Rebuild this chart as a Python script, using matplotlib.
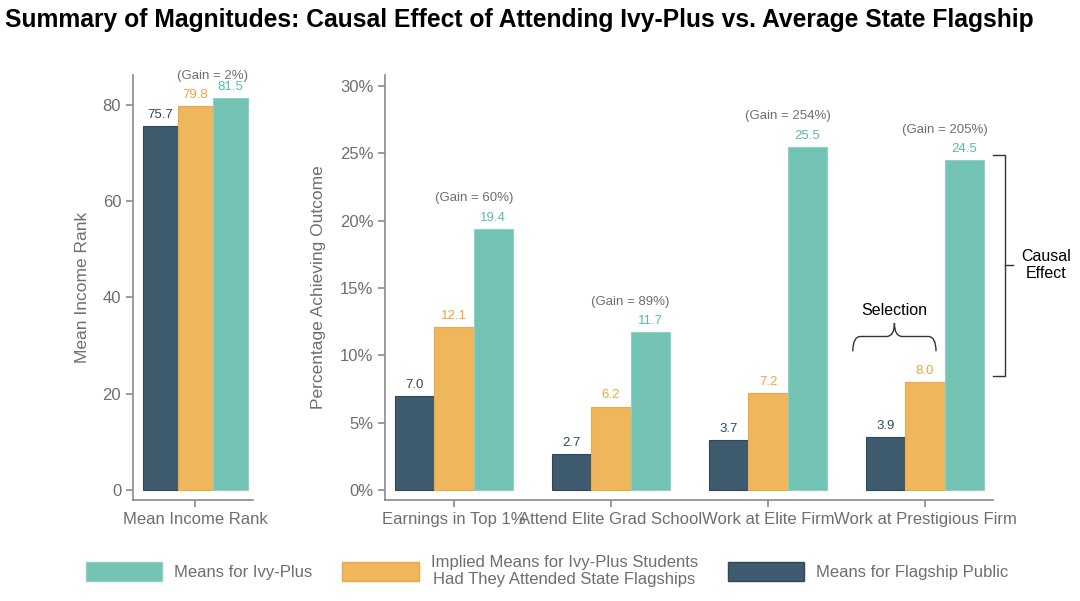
import matplotlib
matplotlib.use("Agg")
import matplotlib.pyplot as plt
from matplotlib.patches import Patch, PathPatch
from matplotlib.path import Path
import numpy as np

plt.rcParams['font.family'] = ['Liberation Sans', 'DejaVu Sans']

# data
series = ["Means for Flagship Public",
          "Implied Means for Ivy-Plus Students\nHad They Attended State Flagships",
          "Means for Ivy-Plus"]
income_vals = [75.7, 79.8, 81.5]
income_gain = "2%"
outcomes = ["Earnings in Top 1%", "Attend Elite Grad School",
            "Work at Elite Firm", "Work at Prestigious Firm"]
flagship = [7.0, 2.7, 3.7, 3.9]
implied = [12.1, 6.2, 7.2, 8.0]
ivy = [19.4, 11.7, 25.5, 24.5]
gains = ["60%", "89%", "254%", "205%"]

bar_cols = ["#3e5c6e", "#f0b65c", "#73c3b5"]
edge_cols = ["#2f4858", "#eaa94a", "#8fd0c4"]
lab_cols = ["#2d4a5c", "#f0a53a", "#5bbaa8"]
grey = "#8a8a8a"
txt_grey = "#6e6e6e"

W, H = 1080, 601
fig = plt.figure(figsize=(W / 100, H / 100), dpi=100)
ax1 = fig.add_axes([133 / W, (H - 500) / H, 120 / W, 425 / H])
ax2 = fig.add_axes([385 / W, (H - 500) / H, 608 / W, 425 / H])

w = 0.25
offs = [-w, 0, w]


def style(ax):
    for s in ["top", "right"]:
        ax.spines[s].set_visible(False)
    for s in ["left", "bottom"]:
        ax.spines[s].set_color(grey)
        ax.spines[s].set_linewidth(1.2)
    ax.tick_params(direction="out", length=5, width=1.2, color=grey,
                   labelcolor=txt_grey, labelsize=12)


# left panel
for i, v in enumerate(income_vals):
    ax1.bar(offs[i], v, w, color=bar_cols[i], edgecolor=edge_cols[i], linewidth=0.8)
    ax1.annotate(f"{v:.1f}", (offs[i], v), xytext=(0, 8), textcoords="offset points",
                 ha="center", va="center", fontsize=9.5, color=lab_cols[i])
ax1.annotate(f"(Gain = {income_gain})", (w / 2, income_vals[2]), xytext=(0, 16),
             textcoords="offset points", ha="center", va="center", fontsize=9.5, color=txt_grey)
ax1.set_xlim(-0.443, 0.414)
ax1.set_ylim(-2.08, 86.23)
ax1.set_yticks([0, 20, 40, 60, 80])
ax1.set_xticks([0])
ax1.set_xticklabels(["Mean Income Rank"])
ax1.set_ylabel("Mean Income Rank", fontsize=12.5, color=txt_grey, labelpad=9)
style(ax1)

# right panel
x = np.arange(len(outcomes))
for i, vals in enumerate([flagship, implied, ivy]):
    ax2.bar(x + offs[i], vals, w, color=bar_cols[i], edgecolor=edge_cols[i], linewidth=0.8)
    for xi, v in zip(x, vals):
        ax2.annotate(f"{v:.1f}", (xi + offs[i], v), xytext=(0, 8), textcoords="offset points",
                     ha="center", va="center", fontsize=9.5, color=lab_cols[i])
for xi, v, g in zip(x, ivy, gains):
    ax2.annotate(f"(Gain = {g})", (xi + w / 2, v), xytext=(0, 22), textcoords="offset points",
                 ha="center", va="center", fontsize=9.5, color=txt_grey)
ax2.set_xlim(-0.44, 3.433)
ax2.set_ylim(-0.743, 30.82)
ax2.set_yticks([0, 5, 10, 15, 20, 25, 30])
ax2.set_yticklabels([f"{t}%" for t in [0, 5, 10, 15, 20, 25, 30]])
ax2.set_xticks(x)
ax2.set_xticklabels(outcomes)
ax2.set_ylabel("Percentage Achieving Outcome", fontsize=12.5, color=txt_grey, labelpad=10)
style(ax2)

# selection brace (horizontal, tip up)
x0, x1, y0 = 2.54, 3.07, 10.3
h, t, r = 1.1, 1.0, 0.05
xm = (x0 + x1) / 2
verts = [(x0, y0), (x0, y0 + h), (x0 + r, y0 + h),
         (xm - r, y0 + h), (xm, y0 + h), (xm, y0 + h + t),
         (xm, y0 + h), (xm + r, y0 + h),
         (x1 - r, y0 + h), (x1, y0 + h), (x1, y0)]
codes = [Path.MOVETO, Path.CURVE3, Path.CURVE3, Path.LINETO, Path.CURVE3, Path.CURVE3,
         Path.CURVE3, Path.CURVE3, Path.LINETO, Path.CURVE3, Path.CURVE3]
ax2.add_patch(PathPatch(Path(verts, codes), fill=False, edgecolor="#333333", lw=1.0, clip_on=False))
ax2.text(xm, y0 + h + t + 0.9, "Selection", ha="center", va="center", fontsize=11.5, color="black")

# causal effect bracket (vertical)
bx, bw, yb, yt = 3.51, 0.075, 8.5, 24.9
ym = (yb + yt) / 2
ax2.plot([bx - bw, bx, bx, bx - bw], [yt, yt, yb, yb], color="#333333", lw=1.0, clip_on=False)
ax2.plot([bx, bx + 0.05], [ym, ym], color="#333333", lw=1.0, clip_on=False)
ax2.text(3.77, ym, "Causal\nEffect", ha="center", va="center", fontsize=11.5,
         color="black", linespacing=1.2, clip_on=False)

# title, sized to span the same width as the original
title = fig.text(5 / W, 1 - 20 / H,
                 "Summary of Magnitudes: Causal Effect of Attending Ivy-Plus vs. Average State Flagship",
                 ha="left", va="center", fontsize=19, fontweight="bold")
rend = fig.canvas.get_renderer()
tw = title.get_window_extent(rend).width
title.set_fontsize(19 * 1030 / tw)

# legend
handles = [Patch(facecolor=bar_cols[i], edgecolor=edge_cols[i]) for i in [2, 1, 0]]
labels = [series[i] for i in [2, 1, 0]]
leg = fig.legend(handles, labels, loc="center", bbox_to_anchor=(547 / W, (H - 571) / H), ncol=3,
                 frameon=False, handlelength=4.6, handleheight=1.3, handletextpad=0.7,
                 columnspacing=1.8, prop={"size": 12})
for tx in leg.get_texts():
    tx.set_color(txt_grey)
    tx.set_multialignment("center")

fig.savefig("out.png", dpi=100)
